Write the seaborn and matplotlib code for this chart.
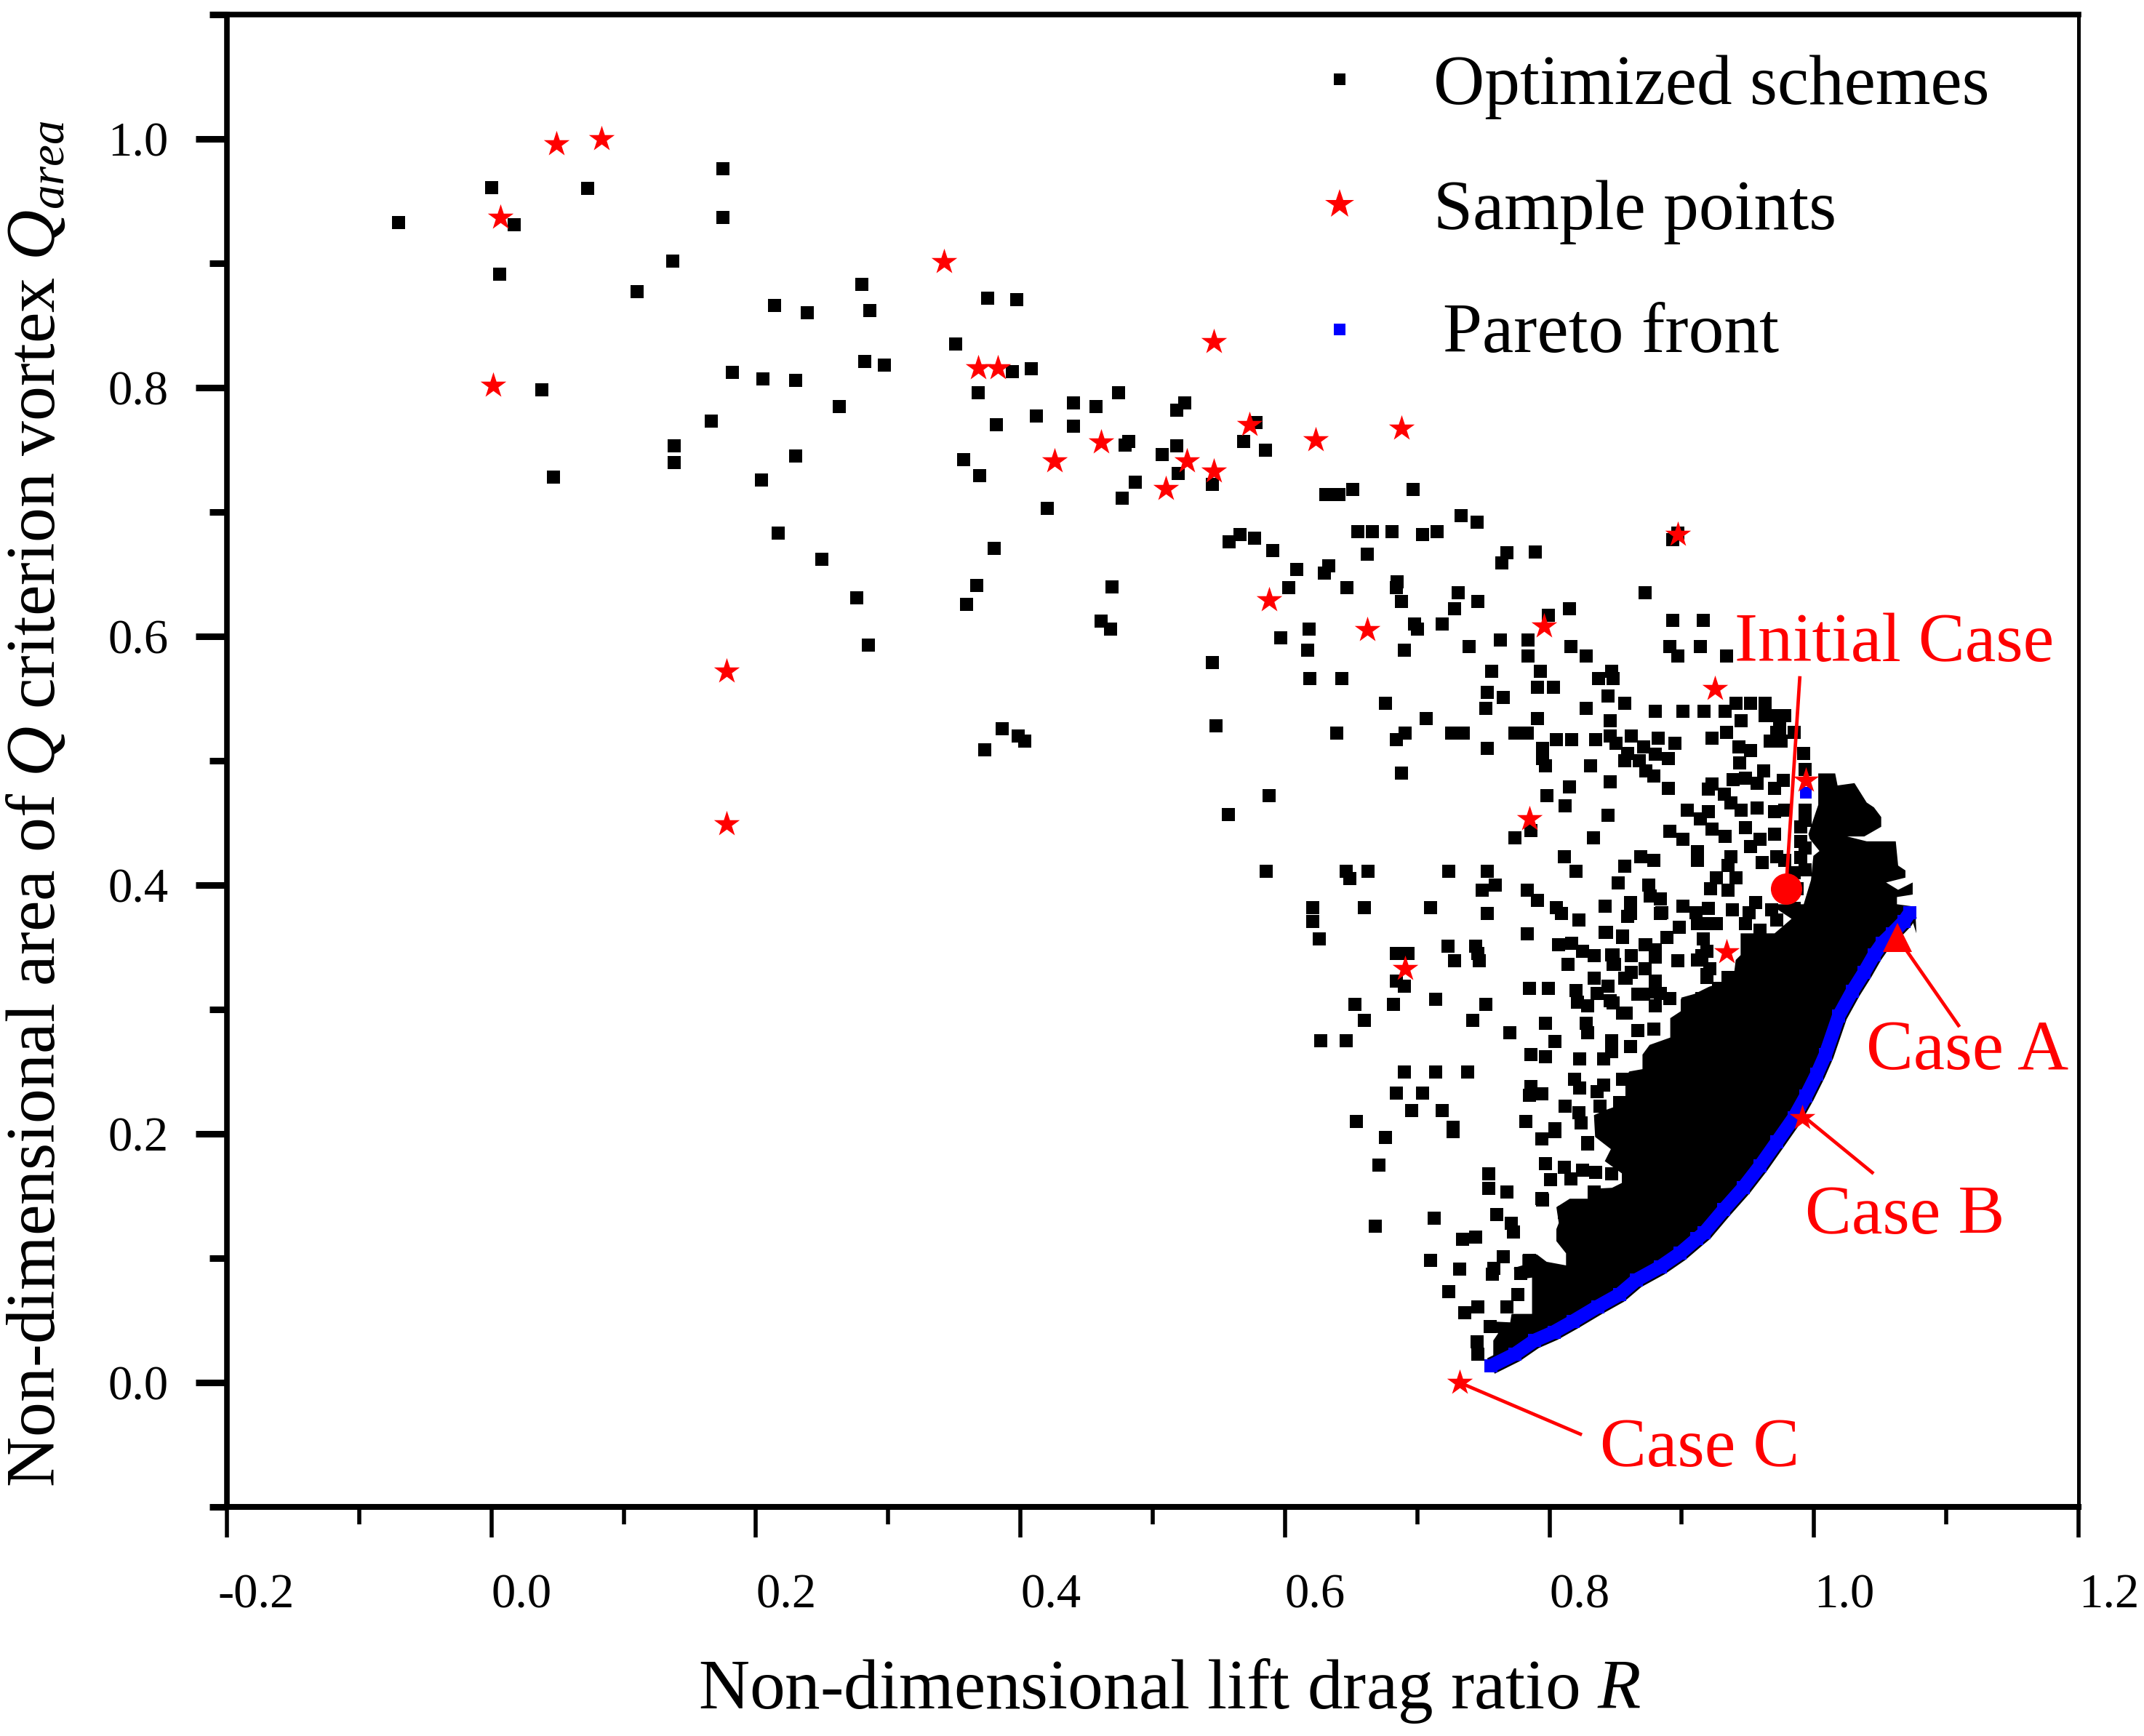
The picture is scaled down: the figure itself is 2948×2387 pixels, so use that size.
import matplotlib
matplotlib.use("Agg")
import matplotlib.pyplot as plt
from matplotlib.lines import Line2D
from matplotlib.transforms import ScaledTranslation
import pandas as pd
import seaborn as sns

# ---- data (R, Q) ----
schemes_left = [(-.070,.933),(0,.961),(.006,.891),(.017,.931),(.073,.960),(.038,.798),(.047,.728),(.110,.877),
    (.137,.902),(.138,.753),(.138,.740),(.166,.773),(.175,.976),(.175,.937),(.182,.812),(.204,.726),(.205,.807),
    (.214,.866),(.217,.683),(.230,.806),(.230,.745),(.239,.860),(.250,.662),(.263,.785),(.276,.631),(.280,.883),
    (.286,.862),(.282,.821),(.297,.818),(.285,.593),(.351,.835),(.357,.742),(.359,.626),(.367,.641),(.368,.796),
    (.369,.729),(.375,.872),(.373,.509),(.380,.671),(.382,.770),(.386,.526),(.394,.813),(.397,.871),(.398,.520),
    (.403,.516),(.408,.815),(.412,.777),(.420,.703),(.440,.788),(.440,.769),(.457,.785),(.461,.612),(.468,.606),
    (.469,.640),(.474,.796),(.477,.711),(.479,.754),(.482,.757),(.487,.724),(.507,.746),(.518,.753),(.518,.782),
    (.524,.788),(.519,.731),(.545,.722),(.545,.579),(.548,.528),(.557,.457),(.558,.676),(.566,.682)]

schemes_upper = [(.569,.757),(.578,.772),(.585,.750),(.577,.679),(.591,.669),(.609,.654),(.630,.651),(.633,.657),
    (.631,.714),(.641,.714),(.651,.718),(.655,.684),(.666,.684),(.681,.684),(.662,.666),(.685,.644),(.697,.718),
    (.704,.682),(.715,.684),(.733,.697),(.745,.692),(.764,.659),(.768,.667),(.789,.668),(.897,.683),(.893,.678)]

cloud_rows = {
    .639:[.603,.647,.684], .635:[.731,.872], .628:[.746,.688], .622:[.815,.728], .617:[.799],
    .613:[.893,.916], .610:[.698,.719], .606:[.700,.618], .599:[.597], .597:[.784,.763],
    .592:[.739,.816,.891,.914], .589:[.617,.690], .584:[.828,.784,.897,.934], .572:[.756,.793,.847],
    .566:[.619,.643,.837,.848], .559:[.791,.803], .555:[.753], .551:[.765], .546:[.676], .542:[.752,.828],
    .534:[.707,.791], .522:[.639,.691,.726,.735,.774,.783], .517:[.684,.805,.817,.835], .510:[.753,.795],
    .502:[.795], .496:[.797,.831], .490:[.688], .479:[.815], .472:[.588,.798], .464:[.812], .444:[.786],
    .438:[.774,.833], .423:[.811], .411:[.586,.646,.663,.724,.753,.820], .405:[.649], .400:[.759],
    .396:[.749,.783], .388:[.791], .382:[.621,.660,.710,.805], .377:[.753], .371:[.621], .357:[.626],
    .351:[.723,.744], .345:[.684,.693,.746], .339:[.728,.747], .323:[.684], .319:[.690], .308:[.714],
    .304:[.653,.752,.682], .291:[.742,.660], .275:[.627,.646], .250:[.690,.714,.738], .233:[.684,.704],
    .219:[.696,.719], .210:[.654], .205:[.727], .197:[.676], .175:[.671], .126:[.668]}

cloud_upper_right = [(.844,.552),(.857,.546),(.941,.546),(.952,.546),(.963,.546),(.880,.540),(.901,.540),(.917,.540),
    (.933,.540),(.963,.540),(.970,.536),(.978,.536),(.963,.536),(.846,.532),(.945,.532),(.974,.532),(.934,.523),
    (.974,.523),(.972,.523),(.985,.523),(.846,.520),(.862,.520),(.882,.518),(.923,.518),(.967,.516),(.975,.516),
    (.850,.514),(.895,.514),(.871,.511),(.943,.511),(.952,.508),(.859,.506),(.992,.506),(.880,.505),(.890,.502),
    (.857,.500),(.868,.500),(.944,.498),(.962,.492),(.873,.492),(.993,.493),(.879,.488),(.846,.483),(.890,.478),
    (.923,.481),(.920,.477),(.939,.485),(.948,.486),(.957,.482),(.970,.478),(.977,.484),(.932,.473),(.937,.466),
    (.904,.460),(.920,.459),(.844,.456),(.945,.460),(.957,.462),(.970,.459),(.978,.460),(.914,.453),(.923,.445),
    (.891,.443),(.901,.437),(.933,.439),(.948,.446),(.959,.437),(.970,.441),(.912,.427),(.912,.420),(.952,.431),
    (.937,.423),(.869,.423),(.879,.420),(.857,.415),(.935,.416),(.961,.418),(.972,.423),(.990,.447),(.990,.435),
    (.990,.422),(.978,.420),(.993,.460),(.993,.452),(.993,.430),(.993,.412),(.985,.410),(.987,.397),(.968,.380),
    (.972,.372),(.985,.381)]

cloud_mid_right = [(.852,.402),(.875,.400),(.926,.406),(.941,.406),(.922,.397),(.935,.396),(.876,.391),(.884,.389),
    (.861,.386),(.861,.377),(.842,.383),(.885,.378),(.901,.383),(.956,.386),(.951,.378),(.938,.380),(.911,.378),
    (.920,.381),(.919,.369),(.926,.369),(.912,.369),(.948,.369),(.898,.366),(.843,.362),(.855,.359),(.889,.358),
    (.916,.357),(.959,.364),(.872,.352),(.880,.346),(.848,.344),(.862,.343),(.880,.342),(.897,.339),(.915,.343),
    (.848,.336),(.862,.330),(.872,.333),(.921,.333),(.919,.326),(.857,.325),(.880,.323),(.844,.319),(.928,.317),
    (.871,.312),(.884,.313),(.915,.309),(.848,.305),(.880,.303),(.904,.303),(.858,.297),(.921,.301),(.935,.326)]

cloud_lower_mid = [(.783,.361),(.809,.377),(.822,.372),(.842,.362),(.855,.358),(.859,.375),(.884,.377),(.898,.366),
    (.889,.358),(.873,.352),(.880,.348),(.862,.343),(.807,.352),(.817,.353),(.825,.347),(.834,.343),(.847,.344),
    (.849,.336),(.814,.336),(.897,.339),(.912,.340),(.919,.347),(.919,.328),(.872,.333),(.858,.325),(.834,.325),
    (.844,.319),(.820,.315),(.785,.317),(.799,.317),(.821,.306),(.829,.303),(.836,.313),(.846,.307),(.855,.297),
    (.867,.312),(.880,.314),(.880,.303),(.891,.309),(.904,.303),(.915,.308),(.797,.289),(.828,.289),(.829,.281),
    (.770,.281),(.804,.274),(.867,.283),(.879,.284),(.847,.275),(.786,.264),(.797,.262),(.823,.260),(.841,.260),
    (.847,.266),(.861,.270),(.819,.244),(.823,.237),(.786,.238),(.785,.231),(.794,.232),(.841,.239),(.836,.234),
    (.855,.244),(.853,.225),(.812,.222),(.822,.217),(.824,.209),(.782,.210),(.804,.204),(.794,.196),(.838,.222),
    (.829,.193),(.797,.176),(.811,.173),(.825,.171),(.801,.163),(.816,.164),(.835,.169),(.847,.168),(.768,.153),
    (.794,.148),(.834,.153),(.760,.135),(.771,.128),(.773,.121),(.811,.137),(.820,.141),(.838,.145)]

cloud_bottom = [(.727,.202),(.804,.202),(.829,.192),(.754,.168),(.754,.156),(.795,.147),(.713,.132),(.734,.115),
    (.744,.117),(.710,.098),(.765,.101),(.732,.091),(.758,.092),(.757,.087),(.724,.073),(.776,.071),(.768,.061),
    (.736,.056),(.746,.061),(.755,.045),(.745,.033),(.746,.023),(.778,.088),(.785,.098)]

# outline of the part of the cloud where the squares merge into solid black
merged_R = [.7575,.7575,.7612,.7502,.7502,.7703,.7713,.7868,.7868,.7868,.7740,.7731,.7795,.7795,.7905,.7978,.8125,
            .8125,.8052,.8052,.8070,.8052,.8153,.8290,.8290,.8473,.8547,.8547,.8418,.8464,.8345,.8336,.8418,.8574,
            .8574,.8602,.8703,.8703,.8757,.8913,.8913,.8996,.8996,.9097,.9207,.9390,.9408,.9445,.9445,.9702,.9830,
            .9665,.9922,.9977,.9995,1.0041,.9967,.9958,1.0013,1.0032,1.0032,1.0160,1.0178,1.0306,1.0398,1.0453,
            1.0508,1.0508,1.0380,1.0251,1.0398,1.0618,1.0636,1.0691,1.0691,1.0545,1.0636,1.0746,1.0746,1.0627,
            1.0627,1.0765,1.0774]
merged_Q = [.0162,.0338,.0396,.0435,.0494,.0484,.0552,.0552,.0669,.0844,.0825,.0922,.0942,.1030,.1030,.0971,.0942,
            .1039,.1137,.1234,.1283,.1410,.1478,.1478,.1556,.1566,.1605,.1682,.1780,.1877,.1975,.2150,.2189,.2248,
            .2442,.2501,.2520,.2637,.2715,.2774,.2930,.2988,.3095,.3125,.3183,.3242,.3398,.3437,.3612,.3612,.3729,
            .3846,.3846,.4041,.4235,.4274,.4372,.4411,.4586,.4645,.4898,.4898,.4801,.4820,.4664,.4625,
            .4547,.4469,.4391,.4391,.4352,.4352,.4157,.4118,.4060,.4021,.3962,.4021,.3924,.3904,
            .3846,.3826,.3612]

pareto_R = [.7557,.7740,.7887,.8033,.8180,.8363,.8528,.8657,.8840,.8986,.9115,.9170,.9317,.9463,.9591,.9720,.9848,
            .9940,1.0022,1.0086,1.0187,1.0288,1.0380,1.0453,1.0517,1.0590,1.0680,1.0724]
pareto_Q = [.0133,.0230,.0338,.0406,.0494,.0610,.0708,.0825,.0932,.1039,.1156,.1205,.1390,.1565,.1741,.1936,.2131,
            .2306,.2481,.2636,.2949,.3144,.3300,.3436,.3534,.3610,.3709,.3777]
pareto_stray = (.994, .474)

sample_R = [.049,.083,.007,.001,.178,.178,.342,.368,.383,.426,.461,.510,.526,.546,.546,.573,.588,.623,.662,.688,
            .691,.785,.796,.897,.925,.934,.994,.991,.732]
sample_Q = [.996,1.0,.937,.802,.572,.449,.901,.816,.816,.741,.756,.719,.741,.733,.837,.770,.629,.758,.605,.767,
            .333,.453,.608,.682,.558,.346,.484,.213,0]

initial_case = (.9788, .397)
case_a = (1.063, .358)

x_major = [-.2, 0, .2, .4, .6, .8, 1.0, 1.2]
x_minor = [-.1, .1, .3, .5, .7, .9, 1.1]
x_labels = ["-0.2", "0.0", "0.2", "0.4", "0.6", "0.8", "1.0", "1.2"]
y_major = [0, .2, .4, .6, .8, 1.0]
y_minor = [-.1, .1, .3, .5, .7, .9, 1.1]
y_labels = ["0.0", "0.2", "0.4", "0.6", "0.8", "1.0"]

# ---- style ----
sns.set_theme(style="ticks")
plt.rcParams["font.family"] = ["Liberation Serif", "DejaVu Serif"]
plt.rcParams["mathtext.fontset"] = "custom"
plt.rcParams["mathtext.rm"] = "Liberation Serif"
plt.rcParams["mathtext.it"] = "Liberation Serif:italic"
plt.rcParams["mathtext.bf"] = "Liberation Serif:bold"
plt.rcParams["text.color"] = "black"
plt.rcParams["axes.labelcolor"] = "black"
plt.rcParams["xtick.labelcolor"] = "black"
plt.rcParams["ytick.labelcolor"] = "black"

W, H = 2948, 2387
fig = plt.figure(figsize=(W / 100, H / 100), dpi=100, facecolor="white")
ax = fig.add_axes([312 / W, 1 - 2072 / H, 2546 / W, 2052 / H])

BLUE = "#0000ff"
RED = "#ff0000"

pairs = list(schemes_left) + list(schemes_upper) + cloud_upper_right + cloud_mid_right + cloud_lower_mid + cloud_bottom
for q, rs in cloud_rows.items():
    pairs += [(r, q) for r in rs]
opt = pd.DataFrame(pairs, columns=["R", "Q"])
sample = pd.DataFrame({"R": sample_R, "Q": sample_Q})
pareto = pd.DataFrame({"R": pareto_R, "Q": pareto_Q})

sns.scatterplot(data=opt, x="R", y="Q", marker="s", s=165, color="black", linewidth=0, ax=ax, zorder=2, legend=False)
ax.fill(merged_R + pareto_R[::-1], merged_Q + pareto_Q[::-1], color="black", lw=0, zorder=2)
# the squares of the front: black rim, then blue on top
sns.lineplot(data=pareto, x="R", y="Q", sort=False, estimator=None, color="black", lw=17, solid_capstyle="butt",
             ax=ax, zorder=2.5, legend=False)
sns.lineplot(data=pareto, x="R", y="Q", sort=False, estimator=None, color=BLUE, lw=13.5, solid_capstyle="butt",
             marker="s", ms=13, mew=0, ax=ax, zorder=3, legend=False)
ax.plot(*pareto_stray, "s", color=BLUE, ms=11, mew=0, zorder=3)
sns.scatterplot(data=sample, x="R", y="Q", marker="*", s=720, color=RED, linewidth=0, ax=ax, zorder=5, legend=False)
ax.plot(*initial_case, "o", color=RED, ms=31, mew=0, zorder=5)
ax.plot(*case_a, "^", color=RED, ms=29, mew=0, zorder=5)

# annotations
def note(text, start, end, tx, ty, size=68):
    ax.plot([start[0], end[0]], [start[1], end[1]], color=RED, lw=3.4, zorder=4, solid_capstyle="butt")
    ax.text(tx, ty, text, color=RED, fontsize=size, ha="left", va="baseline", zorder=6)

note("Initial Case", (.9893, .568), initial_case, .940, .580, size=69)
note("Case A", case_a, (1.110, .286), 1.0397, .2519, size=70)
note("Case B", (.991, .215), (1.045, .168), .9933, .120, size=69)
note("Case C", (.732, 0), (.8245, -.042), .838, -.067, size=69)

# axes
ax.set_xlim(-.2, 1.2)
ax.set_ylim(-.1, 1.1)
ax.set_xticks(x_major)
ax.set_xticks(x_minor, minor=True)
ax.set_xticklabels(x_labels, ha="left", fontsize=48)
ax.set_yticks(y_major)
ax.set_yticks(y_minor, minor=True)
ax.set_yticklabels(y_labels, fontsize=48)
ax.tick_params(axis="x", which="major", length=30, width=4, pad=36, color="black")
ax.tick_params(axis="x", which="minor", length=17, width=4, color="black")
ax.tick_params(axis="y", which="major", length=31, width=6.5, pad=27, color="black")
ax.tick_params(axis="y", which="minor", length=17, width=6.5, color="black")
first = ax.xaxis.get_majorticklabels()[0]
first.set_transform(first.get_transform() + ScaledTranslation(-.12, 0, fig.dpi_scale_trans))
for side, lw in dict(left=5.5, bottom=5.8, top=5.5, right=3.6).items():
    ax.spines[side].set_visible(True)
    ax.spines[side].set_linewidth(lw)
    ax.spines[side].set_color("black")

ax.set_xlabel("Non-dimensional lift drag ratio $R$", fontsize=70, va="baseline", ha="center")
ax.xaxis.set_label_coords(.509, -.135)
ax.set_ylabel("Non-dimensional area of $Q$ criterion vortex $Q_{area}$", fontsize=69, va="baseline", ha="center")
ax.yaxis.set_label_coords(-.093, .471)

handles = [
    Line2D([], [], ls="", marker="s", color="black", ms=12, mew=0, label="Optimized schemes"),
    Line2D([], [], ls="", marker="*", color=RED, ms=30, mew=0, label="Sample points"),
    Line2D([], [], ls="", marker="s", color=BLUE, ms=12, mew=0, label="Pareto front"),
]
legend = ax.legend(handles=handles, fontsize=70, frameon=False, loc="upper left", bbox_to_anchor=(.582, .973),
                   borderaxespad=0, borderpad=0, handlelength=1, handletextpad=.82, labelspacing=.85)
legend.get_texts()[2].set_position((13, 3))

fig.savefig("out.png", dpi=100, facecolor="white")
